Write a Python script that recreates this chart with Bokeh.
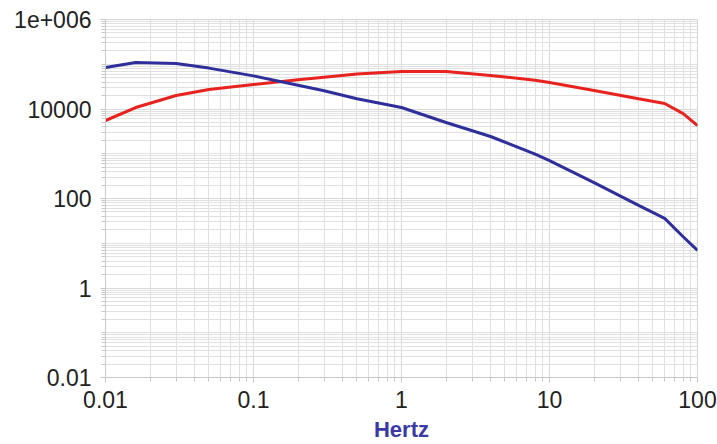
from bokeh.plotting import figure
from bokeh.models import FixedTicker, CustomJSTickFormatter, ColumnDataSource
from bokeh.embed import file_html
from bokeh.resources import INLINE

# ---- data ----
freq_hz = [0.01, 0.016, 0.03, 0.05, 0.1, 0.2, 0.3, 0.5, 1, 2, 4, 8, 10, 20, 40, 60, 80, 100]
blue_vals = [84500, 109000, 104000, 82000, 55000, 34000, 25500, 16900, 10800, 5000,
             2430, 980, 700, 227, 70, 36, 14, 6.9]
red_vals = [5530, 10800, 20000, 27300, 35300, 45000, 51500, 60600, 68900, 68900,
            56000, 44000, 39000, 25900, 16900, 13300, 7900, 4280]

x_ticks = [0.01, 0.1, 1, 10, 100]
x_tick_labels = ["0.01", "0.1", "1", "10", "100"]
y_ticks = [0.01, 1, 100, 10000, 1000000]
y_tick_labels = ["0.01", "1", "100", "10000", "1e+006"]
x_label = "Hertz"

# minor tick positions (log-scale helpers)
def log_minors(lo_exp, hi_exp):
    out = []
    for e in range(lo_exp, hi_exp):
        for m in range(1, 10):
            out.append(m * 10.0 ** e)
    out.append(10.0 ** hi_exp)
    return out

x_minor = log_minors(-2, 2)
y_minor = log_minors(-2, 6)

src = ColumnDataSource(dict(x=freq_hz, blue=blue_vals, red=red_vals))

p = figure(width=717, height=444, x_axis_type="log", y_axis_type="log",
           x_range=(0.01, 100), y_range=(0.01, 1e6),
           output_backend="svg", toolbar_location=None,
           min_border_left=105, min_border_top=19, min_border_right=20, min_border_bottom=67)

p.line("x", "red", source=src, line_color="#e8231f", line_width=3)
p.line("x", "blue", source=src, line_color="#2f2f9c", line_width=3)

fmt_code = """
const i = tv.findIndex(t => Math.abs(Math.log10(t) - Math.log10(tick)) < 1e-6);
return i >= 0 ? tl[i] : '';
"""
p.xaxis.ticker = FixedTicker(ticks=x_ticks, minor_ticks=x_minor)
p.yaxis.ticker = FixedTicker(ticks=y_ticks, minor_ticks=y_minor)
p.xaxis.formatter = CustomJSTickFormatter(args=dict(tv=x_ticks, tl=x_tick_labels), code=fmt_code)
p.yaxis.formatter = CustomJSTickFormatter(args=dict(tv=y_ticks, tl=y_tick_labels), code=fmt_code)

for ax in (p.xaxis, p.yaxis):
    ax.major_label_text_font = "Liberation Sans"
    ax.major_label_text_font_size = "23px"
    ax.major_label_text_color = "#222222"
    ax.axis_line_color = "#c8c8c8"
    ax.major_tick_line_color = "#c8c8c8"
    ax.minor_tick_line_color = "#c8c8c8"
    ax.major_tick_in = 0
    ax.minor_tick_in = 0
    ax.major_tick_out = 5
    ax.minor_tick_out = 4

p.xaxis.major_label_standoff = 8
p.yaxis.major_label_standoff = 9

p.xaxis.axis_label = x_label
p.xaxis.axis_label_text_font = "Liberation Sans"
p.xaxis.axis_label_text_font_style = "bold"
p.xaxis.axis_label_text_font_size = "22px"
p.xaxis.axis_label_text_color = "#3a3aa6"
p.xaxis.axis_label_standoff = 6

for g in (p.xgrid, p.ygrid):
    g.grid_line_color = "#d8d8d8"
    g.minor_grid_line_color = "#e0e0e0"
    g.grid_line_width = 1
    g.minor_grid_line_width = 1

p.outline_line_color = "#d4d4d4"
p.background_fill_color = "white"
p.border_fill_color = "white"

open("out.html", "w").write(file_html(p, INLINE))
